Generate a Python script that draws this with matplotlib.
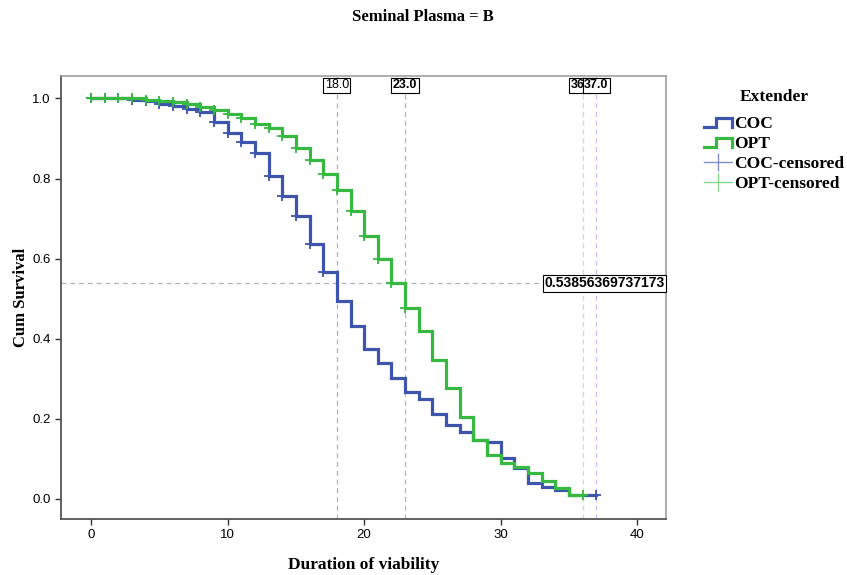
import matplotlib
matplotlib.use('Agg')
import matplotlib.pyplot as plt
from matplotlib.lines import Line2D
from matplotlib.legend_handler import HandlerBase

# Kaplan-Meier estimates (value after the event at each time)
times_coc = list(range(0, 38))
surv_coc = [1.0, 1.0, 1.0, 0.997, 0.993, 0.987, 0.981, 0.974, 0.966, 0.940,
            0.914, 0.892, 0.864, 0.807, 0.757, 0.707, 0.637, 0.566, 0.494, 0.431,
            0.375, 0.340, 0.302, 0.266, 0.249, 0.211, 0.185, 0.166, 0.148, 0.141,
            0.102, 0.077, 0.040, 0.030, 0.023, 0.011, 0.009, 0.009]
times_opt = list(range(0, 37))
surv_opt = [1.0, 1.0, 1.0, 1.0, 0.997, 0.994, 0.990, 0.985, 0.978, 0.971,
            0.962, 0.950, 0.937, 0.925, 0.906, 0.876, 0.847, 0.811, 0.772, 0.718,
            0.656, 0.598, 0.5386, 0.477, 0.419, 0.347, 0.277, 0.205, 0.147, 0.109,
            0.090, 0.079, 0.066, 0.044, 0.027, 0.010, 0.010]
censored_coc = list(range(0, 18)) + [37]
censored_opt = list(range(0, 24)) + [36]

ref_x = [18.0, 23.0, 36.0, 37.0]
ref_x_labels = ['18.0', '23.0', '36.0', '37.0']
ref_y = 0.53856369737173
ref_y_label = '0.53856369737173'

BLUE = '#3d55ad'
GREEN = '#36b841'
SERIF = 'Liberation Serif'
SANS = 'Liberation Sans'


class StepHandler(HandlerBase):
    def create_artists(self, legend, orig_handle, xdescent, ydescent,
                       width, height, fontsize, trans):
        xs = [0.0, 0.45, 0.45, 1.0, 1.0]
        ys = [0.1, 0.1, 0.8, 0.8, 0.1]
        line = Line2D([-xdescent + width * x for x in xs],
                      [-ydescent + height * y for y in ys],
                      color=orig_handle.get_color(), lw=orig_handle.get_linewidth(),
                      solid_joinstyle='miter', transform=trans)
        return [line]


fig = plt.figure(figsize=(8.47, 5.75), dpi=100)
ax = fig.add_axes([61 / 847, 1 - 519 / 575, (666 - 61) / 847, (519 - 76) / 575])

ax.set_xlim(-2.2, 42.1)
ax.set_ylim(-0.05, 1.056)

# reference lines
ref_colors = ['#b4b4b4', '#b4b4b4', '#bfe3c0', '#c0c4f0']
for xv, c in zip(ref_x, ref_colors):
    ax.axvline(xv, color=c, lw=0.9, ls=(0, (4, 3)), zorder=1)
ax.plot([-2.2, 33.0], [ref_y, ref_y], color='#b4b4b4', lw=0.9, ls=(0, (4, 3)), zorder=1)

ax.step(times_coc, surv_coc, where='post', color=BLUE, lw=2.3, zorder=3,
        solid_joinstyle='miter')
ax.step(times_opt, surv_opt, where='post', color=GREEN, lw=2.3, zorder=4,
        solid_joinstyle='miter')

cy = [surv_coc[times_coc.index(t)] for t in censored_coc]
oy = [surv_opt[times_opt.index(t)] for t in censored_opt]
ax.plot(censored_coc, cy, ls='none', marker='+', ms=6.5, mew=1.3, color=BLUE, zorder=3)
ax.plot(censored_opt, oy, ls='none', marker='+', ms=6.5, mew=1.3, color=GREEN, zorder=4)

# value labels on the reference lines (36.0 is partly hidden by 37.0, as in the original)
for xv, lab in zip(ref_x, ref_x_labels):
    ax.text(xv, 1.0325, lab, ha='center', va='center', fontsize=9, family=SANS,
            fontweight='normal' if lab == '18.0' else 'bold', zorder=6,
            bbox=dict(boxstyle='square,pad=0.12', fc='white', ec='black', lw=0.8))
ax.text(42.0, ref_y, ref_y_label, ha='right', va='center', fontsize=10, family=SANS,
        fontweight='bold', zorder=6,
        bbox=dict(boxstyle='square,pad=0.1', fc='white', ec='black', lw=0.8))

ax.set_xticks([0, 10, 20, 30, 40])
ax.set_yticks([0.0, 0.2, 0.4, 0.6, 0.8, 1.0])
ax.set_yticklabels(['0.0', '0.2', '0.4', '0.6', '0.8', '1.0'])
ax.tick_params(direction='out', length=4, width=1, labelsize=9.5, colors='#333333')
for lab in ax.get_xticklabels() + ax.get_yticklabels():
    lab.set_family(SANS)
    lab.set_color('black')
for side in ['left', 'bottom']:
    ax.spines[side].set_color('#555555')
    ax.spines[side].set_linewidth(1.3)
for side in ['top', 'right']:
    ax.spines[side].set_color('#999999')
    ax.spines[side].set_linewidth(1.1)

ax.set_xlabel('Duration of viability', family=SERIF, fontweight='bold', fontsize=12.5, labelpad=11)
ax.set_ylabel('Cum Survival', family=SERIF, fontweight='bold', fontsize=12, labelpad=2)

fig.text(423 / 847, 1 - 17 / 575, 'Seminal Plasma = B', ha='center', va='center',
         family=SERIF, fontweight='bold', fontsize=12)

h_coc = Line2D([], [], color=BLUE, lw=2.3)
h_opt = Line2D([], [], color=GREEN, lw=2.3)
h_coc_c = Line2D([], [], color='#8491cf', lw=1.0, marker='|', ms=13, mew=1.0)
h_opt_c = Line2D([], [], color='#86d68c', lw=1.0, marker='|', ms=13, mew=1.0)
leg = fig.legend([h_coc, h_opt, h_coc_c, h_opt_c],
                 ['COC', 'OPT', 'COC-censored', 'OPT-censored'],
                 handler_map={h_coc: StepHandler(), h_opt: StepHandler()},
                 title='Extender', loc='upper left', bbox_to_anchor=(697 / 847, 1 - 82 / 575),
                 frameon=False, handlelength=1.6, handletextpad=0.15, labelspacing=0.22,
                 borderaxespad=0, prop={'family': SERIF, 'weight': 'bold', 'size': 12.5})
leg.get_title().set_fontproperties({'family': SERIF, 'weight': 'bold', 'size': 12.5})
leg._legend_box.sep = 8

fig.savefig('out.png', dpi=100)
